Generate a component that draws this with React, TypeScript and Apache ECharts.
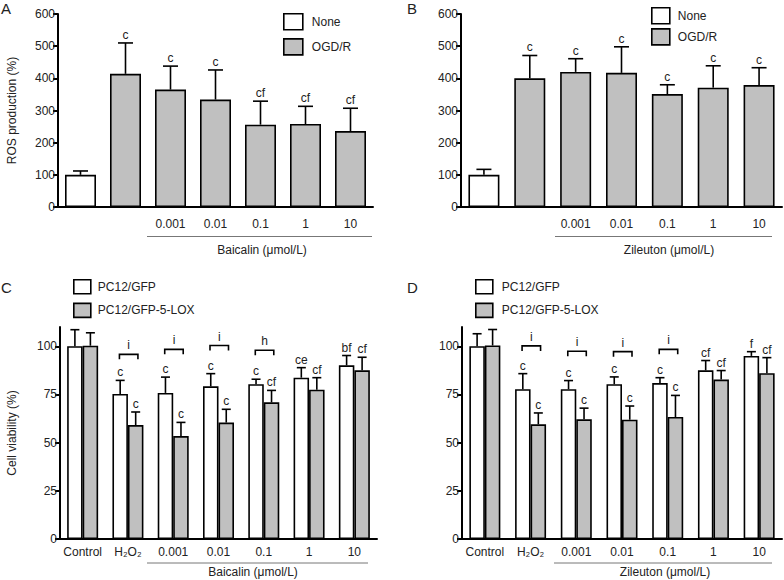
import { useEffect, useRef } from 'react';
import * as echarts from 'echarts';

// ---------- data ----------
const abCategories = ['', '', '0.001', '0.01', '0.1', '1', '10'];
const cdCategories = ['Control', 'H₂O₂', '0.001', '0.01', '0.1', '1', '10'];
const viabilityTicks = [0, 25, 50, 75, 100];

// Panel A: ROS production, Baicalin
const rosBaicalinMean = [100, 414, 365, 334, 256, 258, 236];
const rosBaicalinSD = [12, 96, 73, 92, 73, 55, 71];
const rosBaicalinSig = ['', 'c', 'c', 'c', 'cf', 'cf', 'cf'];

// Panel B: ROS production, Zileuton
const rosZileutonMean = [100, 400, 420, 417, 351, 371, 379];
const rosZileutonSD = [17, 71, 41, 81, 29, 68, 54];
const rosZileutonSig = ['', 'c', 'c', 'c', 'c', 'c', 'c'];

// Panel C: Cell viability, Baicalin
const gfpBaicalinMean = [100, 75.3, 75.8, 79.2, 80.3, 83.7, 90.1];
const gfpBaicalinSD = [8.6, 7.0, 8.2, 6.6, 2.6, 5.2, 5.1];
const gfpBaicalinSig = ['', 'c', 'c', 'c', 'c', 'ce', 'bf'];
const loxBaicalinMean = [100.3, 59.1, 53.4, 60.4, 70.9, 77.5, 87.5];
const loxBaicalinSD = [6.7, 6.8, 7.1, 6.9, 6.2, 6.2, 6.8];
const loxBaicalinSig = ['', 'c', 'c', 'c', 'cf', 'cf', 'cf'];
const baicalinBracketCats = [1, 2, 3, 4];
const baicalinBracketY = [95.8, 98.4, 100.4, 97.9];
const baicalinBracketText = ['i', 'i', 'i', 'h'];

// Panel D: Cell viability, Zileuton
const gfpZileutonMean = [100, 77.7, 77.7, 80.3, 80.9, 87.5, 95];
const gfpZileutonSD = [6.5, 8.1, 4.5, 3.8, 2.8, 5.1, 2.2];
const gfpZileutonSig = ['', 'c', 'c', 'c', 'c', 'cf', 'f'];
const loxZileutonMean = [100.4, 59.5, 62.1, 61.9, 63.3, 82.7, 86];
const loxZileutonSD = [8.3, 5.9, 5.8, 7.1, 11.2, 4.7, 8.1];
const loxZileutonSig = ['', 'c', 'c', 'c', 'c', 'cf', 'cf'];
const zileutonBracketCats = [1, 2, 3, 4];
const zileutonBracketY = [100.2, 97.4, 97.2, 98.4];
const zileutonBracketText = ['i', 'i', 'i', 'i'];

// ---------- styles ----------
const FONT = '"Liberation Sans", Arial, sans-serif';
const TXT = '#222';
const GRAY = '#c0c0c0';
const LW = 1.6;
const AB_BAR = 31;
const CD_BAR = 15.5;

function errorSeries(grid: number, means: number[], sds: number[], sigs: string[], offset: number, capHalf: number) {
  return {
    type: 'custom',
    xAxisIndex: grid,
    yAxisIndex: grid,
    silent: true,
    z: 5,
    itemStyle: { color: '#000' },
    data: means.map((m, i) => [i, m, m + sds[i]]),
    renderItem: (params: any, api: any) => {
      const i = params.dataIndex;
      const base = api.coord([api.value(0), api.value(1)]);
      const top = api.coord([api.value(0), api.value(2)]);
      const x = base[0] + offset;
      const children: any[] = [
        { type: 'line', shape: { x1: x, y1: base[1], x2: x, y2: top[1] }, style: { stroke: '#000', lineWidth: LW } },
        { type: 'line', shape: { x1: x - capHalf, y1: top[1], x2: x + capHalf, y2: top[1] }, style: { stroke: '#000', lineWidth: LW } },
      ];
      if (sigs[i]) {
        children.push({
          type: 'text',
          x,
          y: top[1] - 8,
          style: { text: sigs[i], align: 'center', verticalAlign: 'middle', fontSize: 12, fontFamily: FONT, fill: TXT },
        });
      }
      return { type: 'group', children };
    },
  };
}

function bracketSeries(grid: number, cats: number[], ys: number[], texts: string[]) {
  return {
    type: 'custom',
    xAxisIndex: grid,
    yAxisIndex: grid,
    silent: true,
    z: 5,
    itemStyle: { color: '#000' },
    data: cats.map((c, i) => [c, ys[i]]),
    renderItem: (params: any, api: any) => {
      const i = params.dataIndex;
      const p = api.coord([api.value(0), api.value(1)]);
      const l = p[0] - 8.5;
      const r = p[0] + 10;
      return {
        type: 'group',
        children: [
          {
            type: 'polyline',
            shape: { points: [[l, p[1] + 5], [l, p[1]], [r, p[1]], [r, p[1] + 5]] },
            style: { stroke: '#000', lineWidth: LW, fill: null },
          },
          {
            type: 'text',
            x: (l + r) / 2,
            y: p[1] - 9,
            style: { text: texts[i], align: 'center', verticalAlign: 'middle', fontSize: 12, fontFamily: FONT, fill: TXT },
          },
        ],
      };
    },
  };
}

function xAxis(grid: number, cats: string[], margin: number) {
  return {
    type: 'category',
    gridIndex: grid,
    data: cats,
    axisLine: { lineStyle: { color: '#000', width: 2 } },
    axisTick: { show: false },
    axisLabel: { color: TXT, fontSize: 12, fontFamily: FONT, margin, interval: 0 },
  };
}

function yAxisRos(grid: number, name: string) {
  return {
    type: 'value',
    gridIndex: grid,
    min: 0,
    max: 600,
    interval: 100,
    splitLine: { show: false },
    axisLine: { show: true, lineStyle: { color: '#000', width: 2 } },
    axisTick: { show: true, length: 5, lineStyle: { color: '#000', width: 2 } },
    axisLabel: { color: TXT, fontSize: 12, fontFamily: FONT, margin: 3 },
    name,
    nameLocation: 'middle',
    nameRotate: 90,
    nameGap: 40,
    nameTextStyle: { color: TXT, fontSize: 12, fontFamily: FONT },
  };
}

function yAxisViab(grid: number, name: string) {
  return {
    type: 'value',
    gridIndex: grid,
    min: 0,
    max: 110,
    interval: 25,
    splitLine: { show: false },
    axisLine: { show: true, lineStyle: { color: '#000', width: 2 } },
    axisTick: { show: true, length: 5, lineStyle: { color: '#000', width: 2 }, customValues: viabilityTicks },
    axisLabel: { color: TXT, fontSize: 12, fontFamily: FONT, margin: 3, customValues: viabilityTicks },
    name,
    nameLocation: 'middle',
    nameRotate: 90,
    nameGap: 42,
    nameTextStyle: { color: TXT, fontSize: 12, fontFamily: FONT },
  };
}

function legend(names: string[], left: number, top: number, w: number, h: number, gap: number, textPad: number) {
  return {
    data: names,
    orient: 'vertical',
    left,
    top,
    itemWidth: w,
    itemHeight: h,
    itemGap: gap,
    icon: 'rect',
    selectedMode: false,
    padding: 0,
    itemStyle: { borderColor: '#000', borderWidth: LW },
    textStyle: { color: TXT, fontSize: 12, fontFamily: FONT, padding: [0, 0, 0, textPad] },
  };
}

const barStyle = (color: string) => ({ color, borderColor: '#000', borderWidth: LW });

export default function App() {
  const ref = useRef<HTMLDivElement>(null);
  useEffect(() => {
    if (!ref.current) return;
    const chart = echarts.init(ref.current, null, { renderer: 'svg' });
    const option: any = {
      animation: false,
      backgroundColor: '#fff',
      textStyle: { fontFamily: FONT },
      grid: [
        { left: 58, top: 14, width: 315, height: 193 },
        { left: 461, top: 14, width: 321, height: 193 },
        { left: 60, top: 327, width: 317, height: 212 },
        { left: 462, top: 327, width: 320, height: 212 },
      ],
      legend: [
        legend(['None', 'OGD/R'], 283, 13, 19, 16, 7.5, 4),
        legend(['None', 'OGD/R'], 651, 7, 18, 16, 3.5, 3),
        legend(['PC12/GFP', 'PC12/GFP-5-LOX'], 73, 279, 17, 14, 8, 2),
        legend(['PC12/GFP', 'PC12/GFP-5-LOX'], 475, 279, 17, 14, 8, 4),
      ],
      xAxis: [
        xAxis(0, abCategories, 11),
        xAxis(1, abCategories, 11),
        xAxis(2, cdCategories, 7),
        xAxis(3, cdCategories, 7),
      ],
      yAxis: [
        yAxisRos(0, 'ROS production (%)'),
        yAxisRos(1, ''),
        yAxisViab(2, 'Cell viability (%)'),
        yAxisViab(3, ''),
      ],
      series: [
        // Panel A
        { type: 'bar', name: 'None', xAxisIndex: 0, yAxisIndex: 0, barWidth: AB_BAR, barGap: '-100%',
          data: rosBaicalinMean.map((v, i) => (i === 0 ? v : '-')), itemStyle: barStyle('#fff') },
        { type: 'bar', name: 'OGD/R', xAxisIndex: 0, yAxisIndex: 0, barWidth: AB_BAR, barGap: '-100%',
          data: rosBaicalinMean.map((v, i) => (i === 0 ? '-' : v)), itemStyle: barStyle(GRAY) },
        errorSeries(0, rosBaicalinMean, rosBaicalinSD, rosBaicalinSig, 0, 7.5),
        // Panel B
        { type: 'bar', name: 'None', xAxisIndex: 1, yAxisIndex: 1, barWidth: AB_BAR, barGap: '-100%',
          data: rosZileutonMean.map((v, i) => (i === 0 ? v : '-')), itemStyle: barStyle('#fff') },
        { type: 'bar', name: 'OGD/R', xAxisIndex: 1, yAxisIndex: 1, barWidth: AB_BAR, barGap: '-100%',
          data: rosZileutonMean.map((v, i) => (i === 0 ? '-' : v)), itemStyle: barStyle(GRAY) },
        errorSeries(1, rosZileutonMean, rosZileutonSD, rosZileutonSig, 0, 7.5),
        // Panel C
        { type: 'bar', name: 'PC12/GFP', xAxisIndex: 2, yAxisIndex: 2, barWidth: CD_BAR, barGap: '0%',
          data: gfpBaicalinMean, itemStyle: barStyle('#fff') },
        { type: 'bar', name: 'PC12/GFP-5-LOX', xAxisIndex: 2, yAxisIndex: 2, barWidth: CD_BAR, barGap: '0%',
          data: loxBaicalinMean, itemStyle: barStyle(GRAY) },
        errorSeries(2, gfpBaicalinMean, gfpBaicalinSD, gfpBaicalinSig, -CD_BAR / 2, 4.5),
        errorSeries(2, loxBaicalinMean, loxBaicalinSD, loxBaicalinSig, CD_BAR / 2, 4.5),
        bracketSeries(2, baicalinBracketCats, baicalinBracketY, baicalinBracketText),
        // Panel D
        { type: 'bar', name: 'PC12/GFP', xAxisIndex: 3, yAxisIndex: 3, barWidth: CD_BAR, barGap: '0%',
          data: gfpZileutonMean, itemStyle: barStyle('#fff') },
        { type: 'bar', name: 'PC12/GFP-5-LOX', xAxisIndex: 3, yAxisIndex: 3, barWidth: CD_BAR, barGap: '0%',
          data: loxZileutonMean, itemStyle: barStyle(GRAY) },
        errorSeries(3, gfpZileutonMean, gfpZileutonSD, gfpZileutonSig, -CD_BAR / 2, 4.5),
        errorSeries(3, loxZileutonMean, loxZileutonSD, loxZileutonSig, CD_BAR / 2, 4.5),
        bracketSeries(3, zileutonBracketCats, zileutonBracketY, zileutonBracketText),
      ],
      graphic: [
        { type: 'text', left: 1, top: 1, style: { text: 'A', fontSize: 15, fontFamily: FONT, fill: TXT } },
        { type: 'text', left: 407, top: 1, style: { text: 'B', fontSize: 15, fontFamily: FONT, fill: TXT } },
        { type: 'text', left: 1, top: 280, style: { text: 'C', fontSize: 15, fontFamily: FONT, fill: TXT } },
        { type: 'text', left: 407, top: 280, style: { text: 'D', fontSize: 15, fontFamily: FONT, fill: TXT } },
        { type: 'line', shape: { x1: 147, y1: 236.5, x2: 372, y2: 236.5 }, style: { stroke: '#777', lineWidth: 1 } },
        { type: 'line', shape: { x1: 555, y1: 236.5, x2: 772, y2: 236.5 }, style: { stroke: '#777', lineWidth: 1 } },
        { type: 'line', shape: { x1: 147, y1: 563, x2: 368, y2: 563 }, style: { stroke: '#777', lineWidth: 1 } },
        { type: 'line', shape: { x1: 554, y1: 563, x2: 772, y2: 563 }, style: { stroke: '#777', lineWidth: 1 } },
        { type: 'text', x: 262, y: 250, style: { text: 'Baicalin (μmol/L)', align: 'center', verticalAlign: 'middle', fontSize: 12, fontFamily: FONT, fill: TXT } },
        { type: 'text', x: 669, y: 250, style: { text: 'Zileuton (μmol/L)', align: 'center', verticalAlign: 'middle', fontSize: 12, fontFamily: FONT, fill: TXT } },
        { type: 'text', x: 253, y: 572, style: { text: 'Baicalin (μmol/L)', align: 'center', verticalAlign: 'middle', fontSize: 12, fontFamily: FONT, fill: TXT } },
        { type: 'text', x: 665, y: 572, style: { text: 'Zileuton (μmol/L)', align: 'center', verticalAlign: 'middle', fontSize: 12, fontFamily: FONT, fill: TXT } },
      ],
    };
    chart.setOption(option);
    return () => chart.dispose();
  }, []);
  return <div ref={ref} style={{ position: 'absolute', left: 0, top: 0, width: 784, height: 580 }} />;
}
